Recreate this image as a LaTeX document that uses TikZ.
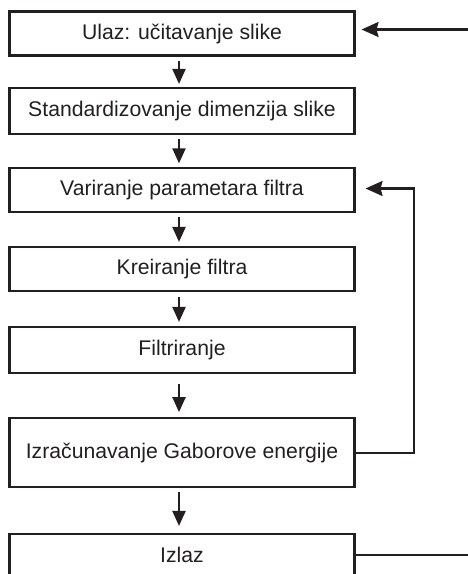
\documentclass[tikz,border=0pt]{standalone}
\usepackage{fontspec}
\setmainfont{Liberation Sans}
\usetikzlibrary{arrows.meta}
\definecolor{ink}{RGB}{35,31,32}

\begin{document}
\begin{tikzpicture}[x=1pt, y=-1pt,
  box/.style={draw=ink, text=ink, line width=2.1pt, minimum width=345pt, inner sep=0pt, font=\fontsize{21.2}{25}\selectfont},
  flow/.style={-{Triangle[length=15pt, width=13pt]}, draw=ink, line width=2.1pt},
  back/.style={-{Stealth[length=17pt, width=15pt, inset=2pt]}, draw=ink, line width=2.1pt}]

  \useasboundingbox (0,0) rectangle (468,574);

  % processing steps
  \node[box, minimum height=44pt] (ulaz) at (182, 33.5) {Ulaz: učitavanje slike};
  \node[box, minimum height=46pt] (dim) at (182, 111) {Standardizovanje dimenzija slike};
  \node[box, minimum height=44pt] (var) at (182, 190.4) {Variranje parametara filtra};
  \node[box, minimum height=44pt] (kre) at (182, 269) {Kreiranje filtra};
  \node[box, minimum height=46pt] (fil) at (182, 350) {Filtriranje};
  \node[box, minimum height=69pt] (gab) at (182, 452.7) {Izračunavanje Gaborove energije};
  \node[box, minimum height=42pt] (izlaz) at (182, 555) {Izlaz};

  % main flow
  \draw[flow, shorten <=4pt, shorten >=3pt] ([xshift=-3pt]ulaz.south) -- ([xshift=-3pt]dim.north);
  \draw[flow, shorten <=4pt, shorten >=4pt] ([xshift=-3pt]dim.south) -- ([xshift=-3pt]var.north);
  \draw[flow, shorten <=4pt, shorten >=4pt] ([xshift=-3pt]var.south) -- ([xshift=-3pt]kre.north);
  \draw[flow, shorten <=5pt, shorten >=4pt] ([xshift=-3pt]kre.south) -- ([xshift=-3pt]fil.north);
  \draw[flow, shorten <=10pt, shorten >=5pt] ([xshift=-3pt]fil.south) -- ([xshift=-3pt]gab.north);
  \draw[flow, shorten <=4pt, shorten >=7pt] ([xshift=-3pt]gab.south) -- ([xshift=-3pt]izlaz.north);

  % input, feedback and output lines
  \coordinate (ulazin) at (470, 29.5);
  \coordinate (povrat) at (414, 188.5);
  \coordinate (izlazout) at (470, 555);
  \draw[back, shorten >=6pt] (ulazin) -- (ulazin -| ulaz.east);
  \draw[back, shorten >=10pt] (gab.east) -| (povrat) -- (povrat -| var.east);
  \draw[draw=ink, line width=2.1pt] (izlaz.east) -- (izlazout);

\end{tikzpicture}
\end{document}
